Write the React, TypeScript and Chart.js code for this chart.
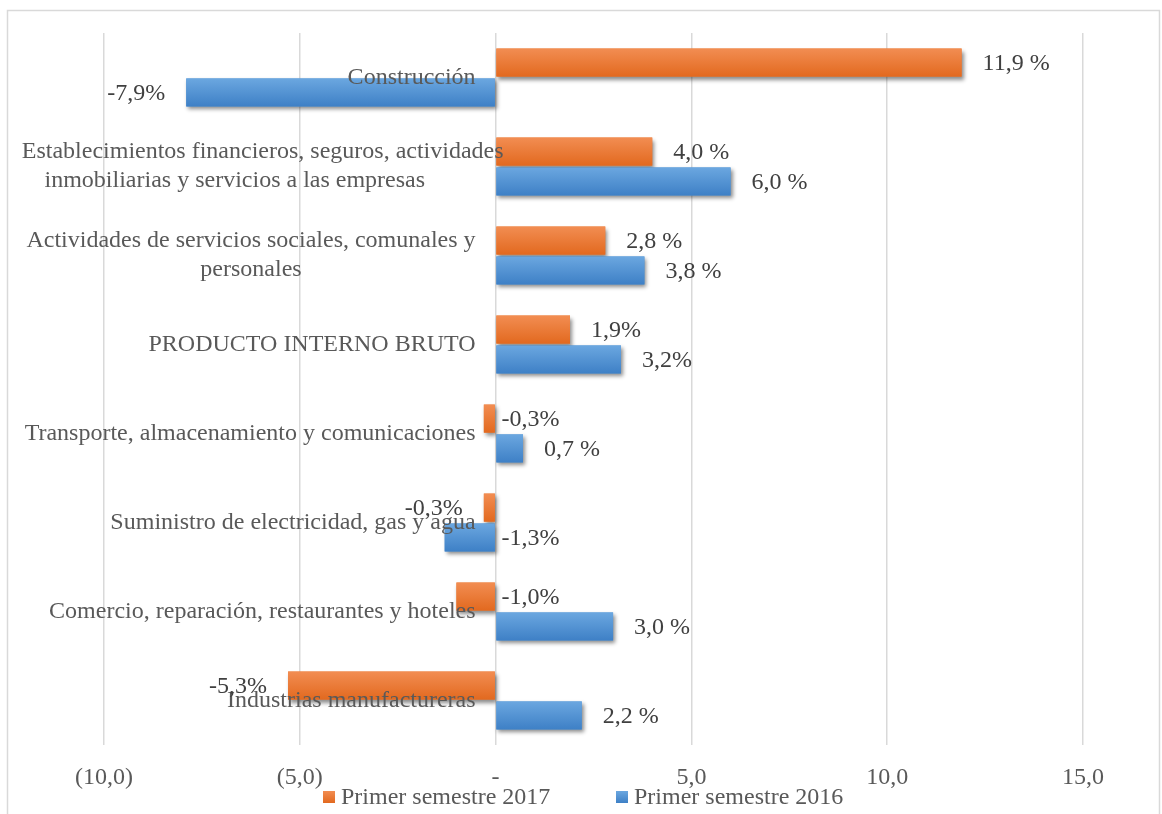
import React, { useEffect, useRef } from "react";
import { Chart, registerables } from "chart.js";

Chart.register(...registerables);

const categories: (string | string[])[] = [
  "Construcción",
  ["Establecimientos financieros, seguros, actividades", "inmobiliarias y servicios a las empresas"],
  ["Actividades de servicios sociales, comunales y", "personales"],
  "PRODUCTO INTERNO BRUTO",
  "Transporte, almacenamiento y comunicaciones",
  "Suministro de electricidad, gas y agua",
  "Comercio, reparación, restaurantes y hoteles",
  "Industrias manufactureras",
];

const series2017 = [11.9, 4.0, 2.8, 1.9, -0.3, -0.3, -1.0, -5.3];
const series2016 = [-7.9, 6.0, 3.8, 3.2, 0.7, -1.3, 3.0, 2.2];

const labels2017 = ["11,9 %", "4,0 %", "2,8 %", "1,9%", "-0,3%", "-0,3%", "-1,0%", "-5,3%"];
const labels2016 = ["-7,9%", "6,0 %", "3,8 %", "3,2%", "0,7 %", "-1,3%", "3,0 %", "2,2 %"];

// label placement: "out" = beyond bar end, "axis" = right of zero line
const place2017 = ["out", "out", "out", "out", "axis", "out", "axis", "out"];
const place2016 = ["out", "out", "out", "out", "out", "axis", "out", "out"];

const seriesNames = ["Primer semestre 2017", "Primer semestre 2016"];

const tickValues = [-10, -5, 0, 5, 10, 15];
const tickLabels = ["(10,0)", "(5,0)", "-", "5,0", "10,0", "15,0"];

const FONT = "'Liberation Serif', 'Times New Roman', serif";
const FS = 24;
const GRAD = [
  ["#f28d52", "#e2691f"],
  ["#6ba7e0", "#3e80c6"],
];

const customPlugin = {
  id: "custom",
  beforeDraw(chart: any) {
    const ctx = chart.ctx;
    ctx.save();
    ctx.fillStyle = "#ffffff";
    ctx.fillRect(0, 0, chart.width, chart.height);
    ctx.strokeStyle = "#d9d9d9";
    ctx.lineWidth = 1.5;
    ctx.strokeRect(7.5, 10.5, 1152, 812);
    ctx.restore();
  },
  beforeDatasetsDraw(chart: any) {
    const ctx = chart.ctx;
    ctx.save();
    ctx.shadowColor = "rgba(0,0,0,0.45)";
    ctx.shadowOffsetX = 2;
    ctx.shadowOffsetY = 3;
    ctx.shadowBlur = 4;
  },
  afterDatasetsDraw(chart: any) {
    const ctx = chart.ctx;
    ctx.restore();
    const xs = chart.scales.x;
    const zero = xs.getPixelForValue(0);
    chart.data.datasets.forEach((ds: any, di: number) => {
      const meta = chart.getDatasetMeta(di);
      meta.data.forEach((el: any) => {
        const p = el.getProps(["x", "y", "base", "height"], true);
        const l = Math.min(p.x, p.base);
        const r = Math.max(p.x, p.base);
        const t = p.y - p.height / 2;
        const b = p.y + p.height / 2;
        const g = ctx.createLinearGradient(0, t, 0, b);
        g.addColorStop(0, GRAD[di][0]);
        g.addColorStop(1, GRAD[di][1]);
        ctx.save();
        ctx.fillStyle = g;
        ctx.fillRect(l, t, r - l, b - t);
        ctx.restore();
      });
    });
    const ys = chart.scales.y;
    ctx.save();
    ctx.beginPath();
    ctx.rect(8, 0, chart.width, chart.height);
    ctx.clip();
    ctx.font = `${FS}px ${FONT}`;
    ctx.fillStyle = "#595959";
    ctx.textBaseline = "middle";
    const rightEdge = zero - 20;
    const lh = 29;
    categories.forEach((c, i) => {
      const lines = Array.isArray(c) ? c : [c];
      const cy = ys.getPixelForValue(i);
      const widths = lines.map((s) => ctx.measureText(s).width);
      const maxW = Math.max(...widths);
      const overflow = maxW > rightEdge - 8;
      const cx = overflow ? (8 + rightEdge) / 2 - 7 : rightEdge - maxW / 2;
      lines.forEach((s, k) => {
        const y = cy + (k - (lines.length - 1) / 2) * lh;
        if (overflow && widths[k] === maxW) {
          ctx.textAlign = "right";
          ctx.fillText(s, rightEdge + 28, y);
        } else {
          ctx.textAlign = "center";
          ctx.fillText(s, cx, y);
        }
      });
    });
    ctx.restore();
    ctx.save();
    ctx.font = `${FS}px ${FONT}`;
    ctx.fillStyle = "#404040";
    ctx.textBaseline = "middle";
    const allLabels = [labels2017, labels2016];
    const allPlace = [place2017, place2016];
    const allVals = [series2017, series2016];
    chart.data.datasets.forEach((ds: any, di: number) => {
      const meta = chart.getDatasetMeta(di);
      meta.data.forEach((el: any, i: number) => {
        const p = el.getProps(["x", "y"], true);
        const v = allVals[di][i];
        const txt = allLabels[di][i];
        const pl = allPlace[di][i];
        if (pl === "axis") {
          ctx.textAlign = "left";
          ctx.fillText(txt, zero + 6, p.y + 1);
        } else if (v >= 0) {
          ctx.textAlign = "left";
          ctx.fillText(txt, p.x + 21, p.y + 1);
        } else {
          ctx.textAlign = "right";
          ctx.fillText(txt, p.x - 21, p.y + 1);
        }
      });
    });
    ctx.restore();
  },
  afterDraw(chart: any) {
    const ctx = chart.ctx;
    ctx.save();
    ctx.font = `${FS}px ${FONT}`;
    ctx.fillStyle = "#595959";
    ctx.textBaseline = "middle";
    ctx.textAlign = "left";
    const ly = 797;
    const xsPos = [323, 616];
    seriesNames.forEach((name, i) => {
      const x = xsPos[i];
      const g = ctx.createLinearGradient(0, ly - 6, 0, ly + 6);
      g.addColorStop(0, GRAD[i][0]);
      g.addColorStop(1, GRAD[i][1]);
      ctx.fillStyle = g;
      ctx.fillRect(x, ly - 6, 12, 12);
      ctx.fillStyle = "#595959";
      ctx.fillText(name, x + 18, ly + 1);
    });
    ctx.restore();
  },
};

export default function App() {
  const ref = useRef<HTMLCanvasElement | null>(null);
  useEffect(() => {
    if (!ref.current) return;
    const chart = new Chart(ref.current, {
      type: "bar",
      data: {
        labels: categories as any,
        datasets: [
          {
            label: seriesNames[0],
            data: series2017,
            backgroundColor: "#ec7a33",
            borderWidth: 0,
            categoryPercentage: 0.67,
            barPercentage: 0.94,
          },
          {
            label: seriesNames[1],
            data: series2016,
            backgroundColor: "#5293d3",
            borderWidth: 0,
            categoryPercentage: 0.67,
            barPercentage: 0.94,
          },
        ],
      },
      options: {
        indexAxis: "y",
        responsive: false,
        animation: false,
        devicePixelRatio: 1,
        layout: { padding: { left: 104, right: 79, top: 33, bottom: 23 } },
        plugins: { legend: { display: false }, tooltip: { enabled: false } },
        scales: {
          x: {
            min: -10,
            max: 15,
            afterBuildTicks: (scale: any) => {
              scale.ticks = tickValues.map((v) => ({ value: v }));
            },
            afterFit: (scale: any) => {
              scale.height = 46;
            },
            ticks: {
              callback: (_v: any, idx: number) => tickLabels[idx],
              font: { family: FONT, size: FS },
              color: "#595959",
              padding: 18,
              maxRotation: 0,
            },
            grid: { color: "#d9d9d9", lineWidth: 1.5, drawTicks: false },
            border: { display: false },
          },
          y: {
            display: false,
            grid: { display: false },
          },
        },
      },
      plugins: [customPlugin],
    });
    return () => chart.destroy();
  }, []);
  return (
    <div style={{ position: "fixed", left: 0, top: 0, width: 1162, height: 814 }}>
      <canvas ref={ref} width={1162} height={814} style={{ display: "block" }} />
    </div>
  );
}
